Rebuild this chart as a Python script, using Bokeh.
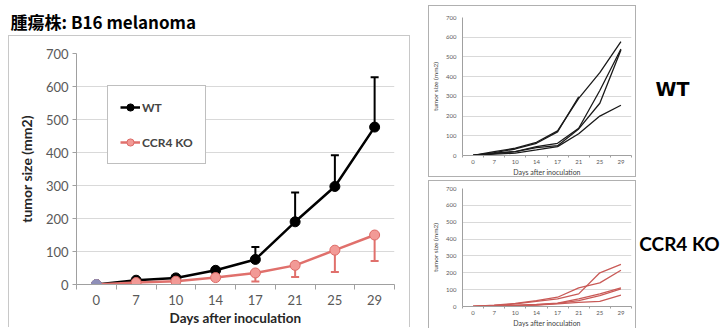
import numpy as np
from bokeh.plotting import figure
from bokeh.layouts import row, column
from bokeh.models import (Range1d, FixedTicker, Legend, LegendItem, Label,
                          Whisker, ColumnDataSource, TeeHead)
from bokeh.embed import file_html
from bokeh.resources import INLINE

# ---------------- data ----------------
days = ["0", "7", "10", "14", "17", "21", "25", "29"]
wt_mean = [0, 13, 20, 43, 76, 190, 297, 477]
wt_sd = [0, 3, 4, 4, 38, 89, 95, 151]
ko_mean = [0, 6, 10, 21, 35, 58, 104, 150]
ko_sd = [0, 2, 3, 4, 26, 35, 66, 79]
y_ticks = [0, 100, 200, 300, 400, 500, 600, 700]

wt_m1 = [0, 20, 37, 67, 125, 290, 420, 578]
wt_m2 = [0, 15, 33, 62, 120, 298, np.nan, np.nan]
wt_m3 = [0, 10, 20, 45, 62, 138, 330, 540]
wt_m4 = [0, 7, 12, 28, 45, 110, 200, 255]
wt_m5 = [0, 12, 20, 40, 50, 135, 265, 535]

ko_m1 = [0, 8, 18, 35, 55, 110, 140, 215]
ko_m2 = [0, 6, 15, 30, 45, 75, 200, 250]
ko_m3 = [0, 4, 8, 12, 20, 45, 75, 110]
ko_m4 = [0, 3, 5, 10, 18, 35, 65, 105]
ko_m5 = [0, 2, 3, 8, 15, 25, 30, 68]

title_text = "腫瘍株: B16 melanoma"
x_title = "Days after inoculation"
y_title = "tumor size (mm2)"
group_labels = ["WT", "CCR4 KO"]

# ---------------- styles ----------------
FONT = "Lato"
WT_COLOR = "black"
KO_LINE = "#e0706c"
KO_FILL = "#f29a96"
KO_EDGE = "#dd6a66"
ZERO_COLOR = "#8e8fb8"
GRID = "#d9d9d9"
AXIS = "#a0a0a0"
TICK_TXT = "#595959"

xs = list(range(len(days)))
minor = [i - 0.5 for i in range(len(days) + 1)]
overrides = {i: d for i, d in enumerate(days)}


def style_axes(p, tick_size, standoff_x, standoff_y, tick_out_y, minor_out):
    xa, ya = p.xaxis[0], p.yaxis[0]
    xa.ticker = FixedTicker(ticks=xs, minor_ticks=minor)
    xa.major_label_overrides = overrides
    xa.major_tick_out = 0
    xa.major_tick_in = 0
    xa.minor_tick_out = minor_out
    xa.minor_tick_in = 0
    xa.minor_tick_line_color = AXIS
    xa.axis_line_color = AXIS
    xa.major_label_standoff = standoff_x
    for a in (xa, ya):
        a.major_label_text_font = FONT
        a.major_label_text_font_size = tick_size
        a.major_label_text_color = TICK_TXT
    ya.ticker = FixedTicker(ticks=y_ticks)
    ya.major_tick_out = tick_out_y
    ya.major_tick_in = 0
    ya.minor_tick_line_color = None
    ya.major_tick_line_color = AXIS
    ya.axis_line_color = AXIS
    ya.major_label_standoff = standoff_y
    p.xgrid.grid_line_color = None
    p.ygrid.ticker = FixedTicker(ticks=y_ticks)
    p.ygrid.grid_line_color = GRID
    p.outline_line_color = None


def boxed(color, bottom=True):
    s = {"border": f"1px solid {color}", "box-sizing": "border-box"}
    if not bottom:
        s["border-bottom"] = "none"
    return s


def text_canvas(width, height, margin=(0, 0, 0, 0)):
    p = figure(width=width, height=height, output_backend="svg", toolbar_location=None,
               title=None, x_axis_type=None, y_axis_type=None,
               x_range=Range1d(0, width), y_range=Range1d(0, height),
               min_border=0, min_border_left=0, min_border_right=0,
               min_border_top=0, min_border_bottom=0,
               margin=margin, frame_align=False)
    p.outline_line_color = None
    p.grid.visible = False
    return p


# ---------------- title ----------------
title_fig = text_canvas(426, 35)
title_fig.add_layout(Label(x=10, y=14, x_units="screen", y_units="screen",
                           text=title_text, text_font="Noto Sans CJK JP",
                           text_font_style="bold", text_font_size="17px",
                           text_baseline="middle", text_align="left",
                           text_color="black"))

# ---------------- main chart ----------------
main = figure(width=402, height=292, output_backend="svg", toolbar_location=None,
              title=None, x_range=Range1d(-0.5, len(days) - 0.5),
              y_range=Range1d(0, 700),
              min_border_left=67, min_border_right=17,
              min_border_top=17, min_border_bottom=41,
              margin=(0, 16, 0, 8), styles=boxed("#c8c8c8", bottom=False),
              frame_align=False)
style_axes(main, "13px", 5, 4, 4, 5)
ya = main.yaxis[0]
ya.axis_label = y_title
ya.axis_label_text_font = FONT
ya.axis_label_text_font_style = "bold"
ya.axis_label_text_font_size = "14px"
ya.axis_label_text_color = "#262626"
ya.axis_label_standoff = 8
xa = main.xaxis[0]
xa.axis_label = x_title
xa.axis_label_text_font = FONT
xa.axis_label_text_font_style = "bold"
xa.axis_label_text_font_size = "13.5px"
xa.axis_label_text_color = "#262626"
xa.axis_label_standoff = 2

wt_src = ColumnDataSource(dict(x=xs, mean=wt_mean,
                               up=[m + s for m, s in zip(wt_mean, wt_sd)]))
ko_src = ColumnDataSource(dict(x=xs, mean=ko_mean,
                               lo=[m - s for m, s in zip(ko_mean, ko_sd)]))

main.add_layout(Whisker(source=wt_src, base="x", upper="up", lower="mean",
                        line_color=WT_COLOR, line_width=2, lower_head=None,
                        upper_head=TeeHead(size=8, line_color=WT_COLOR, line_width=2)))
main.add_layout(Whisker(source=ko_src, base="x", upper="mean", lower="lo",
                        line_color=KO_LINE, line_width=2, upper_head=None,
                        lower_head=TeeHead(size=8, line_color=KO_LINE, line_width=2)))

wt_line = main.line("x", "mean", source=wt_src, line_color=WT_COLOR, line_width=2.5)
wt_pts = main.scatter("x", "mean", source=wt_src, size=10, fill_color=WT_COLOR,
                      line_color=WT_COLOR)
ko_line = main.line("x", "mean", source=ko_src, line_color=KO_LINE, line_width=2.5)
ko_pts = main.scatter("x", "mean", source=ko_src, size=10, fill_color=KO_FILL,
                      line_color=KO_EDGE)
main.scatter(x=[xs[0]], y=[ko_mean[0]], size=10, fill_color=ZERO_COLOR,
             line_color=ZERO_COLOR)

legend = Legend(items=[LegendItem(label=group_labels[0], renderers=[wt_line, wt_pts]),
                       LegendItem(label=group_labels[1], renderers=[ko_line, ko_pts])],
                location=(31, 120), padding=12, spacing=17, margin=0,
                glyph_width=20, glyph_height=18, label_height=18,
                label_standoff=2, label_text_font=FONT,
                label_text_font_style="bold", label_text_font_size="12px",
                border_line_color="#7f7f7f", border_line_width=1,
                background_fill_color="white", background_fill_alpha=1)
main.add_layout(legend, "center")


# ---------------- small charts ----------------
def small(mice, color, height, top, bottom, margin, box_bottom):
    p = figure(width=208, height=height, output_backend="svg", toolbar_location=None,
               title=None, x_range=Range1d(-0.5, len(days) - 0.5),
               y_range=Range1d(0, 700),
               min_border_left=33, min_border_right=6,
               min_border_top=top, min_border_bottom=bottom,
               margin=margin, styles=boxed("#b0b0b0", bottom=box_bottom),
               frame_align=False)
    style_axes(p, "6px", 2, 6, 0, 2)
    y = p.yaxis[0]
    y.axis_label = y_title
    y.axis_label_text_font = FONT
    y.axis_label_text_font_size = "6.5px"
    y.axis_label_text_font_style = "normal"
    y.axis_label_text_color = "#404040"
    y.axis_label_standoff = 4
    x = p.xaxis[0]
    x.axis_label = x_title
    x.axis_label_text_font = FONT
    x.axis_label_text_font_size = "7px"
    x.axis_label_text_font_style = "normal"
    x.axis_label_text_color = "#404040"
    x.axis_label_standoff = 1
    for m in mice:
        p.line(xs, m, line_color=color, line_width=1.3)
    return p


wt_fig = small([wt_m1, wt_m2, wt_m3, wt_m4, wt_m5], "#1a1a1a", 172, 11, 23,
               (5, 0, 0, 2), True)
ko_fig = small([ko_m1, ko_m2, ko_m3, ko_m4, ko_m5], "#c95a57", 148, 7, 22,
               (3, 0, 0, 2), False)

# ---------------- group labels ----------------
side = text_canvas(84, 328)
side.add_layout(Label(x=36, y=240, x_units="screen", y_units="screen",
                      text=group_labels[0], text_font="DejaVu Sans",
                      text_font_style="bold", text_font_size="19px",
                      text_baseline="middle", text_align="center", text_color="black"))
side.add_layout(Label(x=43, y=85, x_units="screen", y_units="screen",
                      text=group_labels[1], text_font="Lato",
                      text_font_style="bold", text_font_size="19px",
                      text_baseline="middle", text_align="center", text_color="black"))

layout = row(column(title_fig, main), column(wt_fig, ko_fig), side)

with open("out.html", "w") as f:
    f.write(file_html(layout, INLINE))
